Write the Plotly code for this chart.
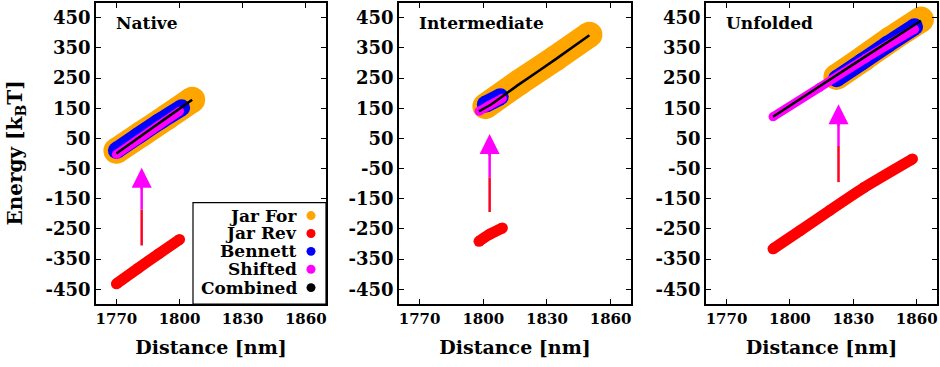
import plotly.graph_objects as go

# ---------------- data ----------------
panels = ["Native", "Intermediate", "Unfolded"]

# Native
nat_jf_x = [1770, 1782, 1794, 1806]
nat_jf_y = [9, 65, 121, 178]
nat_jr_x = [1770, 1780, 1790, 1800]
nat_jr_y = [-432, -382, -333, -285]
nat_be_x = [1770, 1780, 1790, 1801]
nat_be_y = [10, 57, 104, 152]
nat_sh_x = [1770, 1780, 1790, 1800]
nat_sh_y = [-3, 45, 93, 140]
nat_co_x = [1770, 1782, 1794, 1806]
nat_co_y = [0, 60, 119, 178]
nat_arrow_x = 1782
nat_arrow_y = [-305, -186, -47]

# Intermediate
int_jf_x = [1801, 1817, 1834, 1850]
int_jf_y = [157, 236, 316, 394]
int_jr_x = [1798, 1803, 1809]
int_jr_y = [-291, -268, -247]
int_be_x = [1801, 1808]
int_be_y = [163, 188]
int_sh_x = [1798, 1803, 1809]
int_sh_y = [140, 160, 183]
int_co_x = [1798, 1804, 1817, 1834, 1850]
int_co_y = [140, 164, 230, 312, 392]
int_arrow_x = 1803
int_arrow_y = [-194, -79, 65]

# Unfolded
unf_jf_x = [1822, 1835, 1848, 1862]
unf_jf_y = [254, 316, 380, 444]
unf_jr_x = [1792, 1805, 1819, 1835, 1858]
unf_jr_y = [-316, -255, -188, -113, -18]
unf_be_x = [1822, 1834, 1846, 1859]
unf_be_y = [248, 304, 361, 420]
unf_sh_x = [1792, 1814, 1836, 1859]
unf_sh_y = [122, 219, 316, 412]
unf_co_x = [1792, 1815, 1838, 1862]
unf_co_y = [122, 227, 332, 440]
unf_arrow_x = 1823
unf_arrow_y = [-95, 25, 163]

x_ticks = [1770, 1800, 1830, 1860]
y_ticks = [-450, -350, -250, -150, -50, 50, 150, 250, 350, 450]

legend_names = ["Jar For", "Jar Rev", "Bennett", "Shifted", "Combined"]
legend_colors = ["#FFA500", "#FF0000", "#0000FF", "#FF00FF", "#000000"]

# ---------------- figure ----------------
FONT = "DejaVu Serif"
C_OR, C_RED, C_BLUE, C_MAG, C_BLK = legend_colors
ARROW_RED = "#FF0020"

panel_data = [
    (nat_jf_x, nat_jf_y, nat_jr_x, nat_jr_y, nat_be_x, nat_be_y, nat_sh_x, nat_sh_y, nat_co_x, nat_co_y, nat_arrow_x, nat_arrow_y),
    (int_jf_x, int_jf_y, int_jr_x, int_jr_y, int_be_x, int_be_y, int_sh_x, int_sh_y, int_co_x, int_co_y, int_arrow_x, int_arrow_y),
    (unf_jf_x, unf_jf_y, unf_jr_x, unf_jr_y, unf_be_x, unf_be_y, unf_sh_x, unf_sh_y, unf_co_x, unf_co_y, unf_arrow_x, unf_arrow_y),
]

fig = go.Figure()

def band(x, y, color, size, xa, ya):
    return go.Scatter(x=x, y=y, mode="lines+markers", xaxis=xa, yaxis=ya,
                      line=dict(color=color, width=size, shape="spline", smoothing=0.6),
                      marker=dict(color=color, size=size, line=dict(width=0)),
                      showlegend=False, hoverinfo="skip")

annotations = []
shapes = []
for i, (jfx, jfy, jrx, jry, bex, bey, shx, shy, cox, coy, ax_x, ax_y) in enumerate(panel_data):
    xa = "x" if i == 0 else f"x{i+1}"
    ya = "y" if i == 0 else f"y{i+1}"
    fig.add_trace(band(jfx, jfy, C_OR, 26, xa, ya))
    fig.add_trace(band(jrx, jry, C_RED, 11, xa, ya))
    fig.add_trace(band(bex, bey, C_BLUE, 17, xa, ya))
    fig.add_trace(band(shx, shy, C_MAG, 9, xa, ya))
    fig.add_trace(go.Scatter(x=cox, y=coy, mode="lines", xaxis=xa, yaxis=ya,
                             line=dict(color=C_BLK, width=2.5, shape="spline", smoothing=0.6),
                             showlegend=False, hoverinfo="skip"))
    # two-colour arrow: shafts as traces, head as annotation
    fig.add_trace(go.Scatter(x=[ax_x, ax_x], y=[ax_y[0], ax_y[1]], mode="lines", xaxis=xa, yaxis=ya,
                             line=dict(color=ARROW_RED, width=2.5), showlegend=False, hoverinfo="skip"))
    fig.add_trace(go.Scatter(x=[ax_x, ax_x], y=[ax_y[1], ax_y[2] - 20], mode="lines", xaxis=xa, yaxis=ya,
                             line=dict(color=C_MAG, width=2.5), showlegend=False, hoverinfo="skip"))
    annotations.append(dict(x=ax_x, y=ax_y[2], ax=0, ay=22, xref=xa, yref=ya,
                            text="", showarrow=True, arrowhead=2, arrowsize=1.6, arrowwidth=2.5,
                            arrowcolor=C_MAG, standoff=0, startstandoff=0, borderpad=0,
                            font=dict(size=1)))
    # panel title
    annotations.append(dict(x=1769, y=432, xref=xa, yref=ya, text=panels[i], showarrow=False,
                            xanchor="left", yanchor="middle",
                            font=dict(family=FONT, size=17, color="black", weight="bold")))

# custom legend in the first panel
legend_rows_px = [215, 233, 251, 269, 287.5]
plot_top, plot_h, plot_w, plot_left = 1, 303, 230, 96
shapes.append(dict(type="rect", xref="x domain", yref="y domain",
                   x0=(193 - plot_left) / plot_w, x1=1.0,
                   y0=0.0, y1=(plot_top + plot_h - 202) / plot_h,
                   line=dict(color="black", width=1.2), fillcolor="white", layer="above"))
for name, col, ry in zip(legend_names, legend_colors, legend_rows_px):
    yd = (plot_top + plot_h - ry) / plot_h
    annotations.append(dict(x=(298 - plot_left) / plot_w, y=yd, xref="x domain", yref="y domain",
                            text=name, showarrow=False, xanchor="right", yanchor="middle",
                            borderpad=0,
                            font=dict(family=FONT, size=17, color="black", weight="bold")))
    r = 4.5
    cx = (311 - plot_left) / plot_w
    shapes.append(dict(type="circle", xref="x domain", yref="y domain",
                       x0=cx - r / plot_w, x1=cx + r / plot_w,
                       y0=yd - r / plot_h, y1=yd + r / plot_h,
                       fillcolor=col, line=dict(width=0), layer="above"))

# axis title for y
annotations.append(dict(x=-0.0963, y=0.5, xref="paper", yref="paper", xanchor="center", yanchor="middle",
                        text="Energy [k<sub>B</sub>T]", textangle=-90, showarrow=False,
                        font=dict(family=FONT, size=20, color="black", weight="bold")))

W, H = 940, 367
ml, mr, mt, mb = 96, 3, 1, 63
pw = W - ml - mr
domains = [(96, 326), (399, 631), (706, 937)]

xtickfont = dict(family=FONT, size=15, color="black", weight="bold")
ytickfont = dict(family=FONT, size=18, color="black", weight="bold")
layout = dict(width=W, height=H, margin=dict(l=ml, r=mr, t=mt, b=mb),
              paper_bgcolor="white", plot_bgcolor="white",
              font=dict(family=FONT, color="black", weight="bold"),
              annotations=annotations, shapes=shapes, showlegend=False)

for i, (a, b) in enumerate(domains):
    suf = "" if i == 0 else str(i + 1)
    layout["xaxis" + suf] = dict(domain=[(a - ml) / pw, (b - ml) / pw], range=[1760.3, 1869.6],
                                 anchor="y" + suf, tickvals=x_ticks, ticks="inside", ticklen=5,
                                 tickwidth=1, tickcolor="black", mirror="allticks", showline=True,
                                 linecolor="black", linewidth=1.5, showgrid=False, zeroline=False,
                                 tickfont=xtickfont,
                                 title=dict(text="Distance [nm]", standoff=14,
                                            font=dict(family=FONT, size=19, color="black", weight="bold")))
    layout["yaxis" + suf] = dict(range=[-499, 499], anchor="x" + suf, tickvals=y_ticks,
                                 ticktext=[str(v) for v in y_ticks],
                                 ticks="inside", ticklen=5, tickwidth=1, tickcolor="black",
                                 mirror="allticks", showline=True, linecolor="black", linewidth=1.5,
                                 showgrid=False, zeroline=False, tickfont=ytickfont)

fig.update_layout(**layout)
fig.write_html("out.html")
